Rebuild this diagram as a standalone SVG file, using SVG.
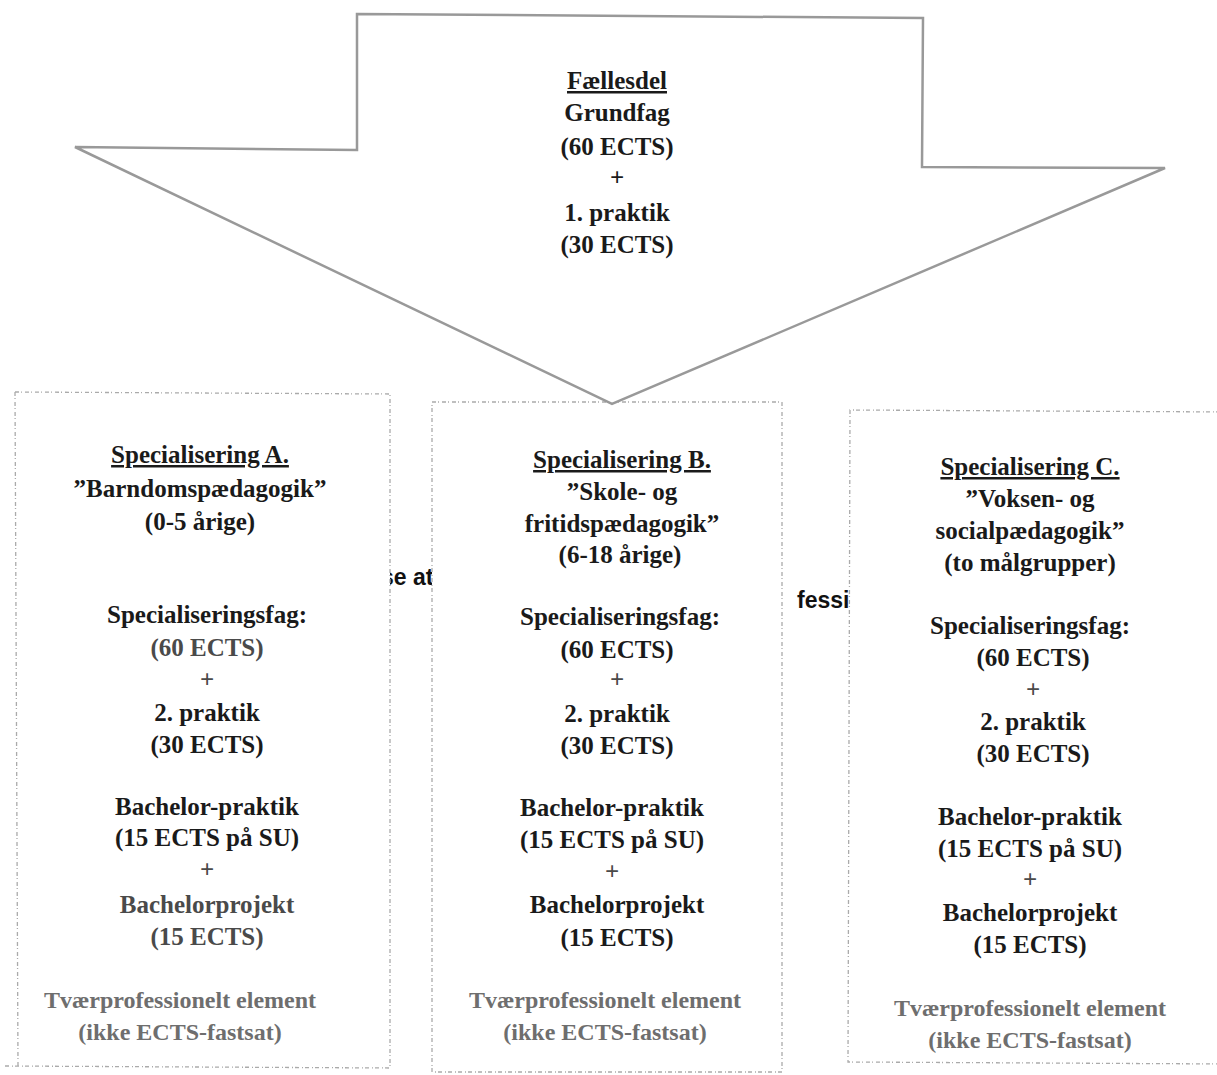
<svg xmlns="http://www.w3.org/2000/svg" width="1217" height="1075" viewBox="0 0 1217 1075">
<style>
.t{font-family:"Liberation Serif","Times New Roman",serif;font-weight:bold;font-size:25px;fill:#1a1a1a;text-anchor:middle}
.u{text-decoration:underline}
.g{fill:#6e6e6e;font-size:24px}
.m{fill:#4a4a4a}
.h{font-family:"Liberation Sans",Arial,sans-serif;font-weight:bold;font-size:23px;fill:#111}
.arrow{fill:#fff;stroke:#999;stroke-width:2.5;stroke-linejoin:miter}
.box{fill:#fff;stroke:#aaa;stroke-width:1.3;stroke-dasharray:4 2 1 3}
</style>
<rect width="1217" height="1075" fill="#fff"/>
<g id="hidden-text">
<text class="h" x="381" y="585">se at</text>
<text class="h" x="797" y="608">fessi</text>
</g>
<g id="connectors"/>
<g id="box-a">
<path class="box" d="M15,392 L390,394 L390,1068 L5,1066 M15,392 L18,1066"/>
<text class="t" x="200" y="463"><tspan class="u">Specialisering A.</tspan></text>
<text class="t" x="200" y="497">”Barndomspædagogik”</text>
<text class="t" x="200" y="530">(0-5 årige)</text>
<text class="t" x="207" y="623">Specialiseringsfag:</text>
<text class="t m" x="207" y="656">(60 ECTS)</text>
<text class="t m" x="207" y="688">+</text>
<text class="t" x="207" y="721">2. praktik</text>
<text class="t" x="207" y="753">(30 ECTS)</text>
<text class="t" x="207" y="815">Bachelor-praktik</text>
<text class="t" x="207" y="846">(15 ECTS på SU)</text>
<text class="t m" x="207" y="878">+</text>
<text class="t m" x="207" y="913">Bachelorprojekt</text>
<text class="t m" x="207" y="945">(15 ECTS)</text>
<text class="t g" x="180" y="1008">Tværprofessionelt element</text>
<text class="t g" x="180" y="1040">(ikke ECTS-fastsat)</text>
</g>
<g id="box-b">
<rect class="box" x="432" y="402" width="350" height="670"/>
<text class="t" x="622" y="468"><tspan class="u">Specialisering B.</tspan></text>
<text class="t" x="622" y="500">”Skole- og</text>
<text class="t" x="622" y="532">fritidspædagogik”</text>
<text class="t" x="620" y="563">(6-18 årige)</text>
<text class="t" x="620" y="625">Specialiseringsfag:</text>
<text class="t" x="617" y="658">(60 ECTS)</text>
<text class="t m" x="617" y="688">+</text>
<text class="t" x="617" y="722">2. praktik</text>
<text class="t" x="617" y="754">(30 ECTS)</text>
<text class="t" x="612" y="816">Bachelor-praktik</text>
<text class="t" x="612" y="848">(15 ECTS på SU)</text>
<text class="t m" x="612" y="880">+</text>
<text class="t" x="617" y="913">Bachelorprojekt</text>
<text class="t" x="617" y="946">(15 ECTS)</text>
<text class="t g" x="605" y="1008">Tværprofessionelt element</text>
<text class="t g" x="605" y="1040">(ikke ECTS-fastsat)</text>
</g>
<g id="box-c">
<path class="box" d="M1230,412 L850,410 L848,1062 L1230,1064"/>
<text class="t" x="1030" y="475"><tspan class="u">Specialisering C.</tspan></text>
<text class="t" x="1030" y="507">”Voksen- og</text>
<text class="t" x="1030" y="539">socialpædagogik”</text>
<text class="t" x="1030" y="571">(to målgrupper)</text>
<text class="t" x="1030" y="634">Specialiseringsfag:</text>
<text class="t" x="1033" y="666">(60 ECTS)</text>
<text class="t m" x="1033" y="698">+</text>
<text class="t" x="1033" y="730">2. praktik</text>
<text class="t" x="1033" y="762">(30 ECTS)</text>
<text class="t" x="1030" y="825">Bachelor-praktik</text>
<text class="t" x="1030" y="857">(15 ECTS på SU)</text>
<text class="t m" x="1030" y="888">+</text>
<text class="t" x="1030" y="921">Bachelorprojekt</text>
<text class="t" x="1030" y="953">(15 ECTS)</text>
<text class="t g" x="1030" y="1016">Tværprofessionelt element</text>
<text class="t g" x="1030" y="1048">(ikke ECTS-fastsat)</text>
</g>
<g id="faellesdel">
<path class="arrow" d="M357,14 L923,18 L922,167 L1165,168 L612,404 L75,147 L357,150 Z"/>
<text class="t" x="617" y="89"><tspan class="u">Fællesdel</tspan></text>
<text class="t" x="617" y="121">Grundfag</text>
<text class="t" x="617" y="155">(60 ECTS)</text>
<text class="t" x="617" y="186">+</text>
<text class="t" x="617" y="221">1. praktik</text>
<text class="t" x="617" y="253">(30 ECTS)</text>
</g>
</svg>
